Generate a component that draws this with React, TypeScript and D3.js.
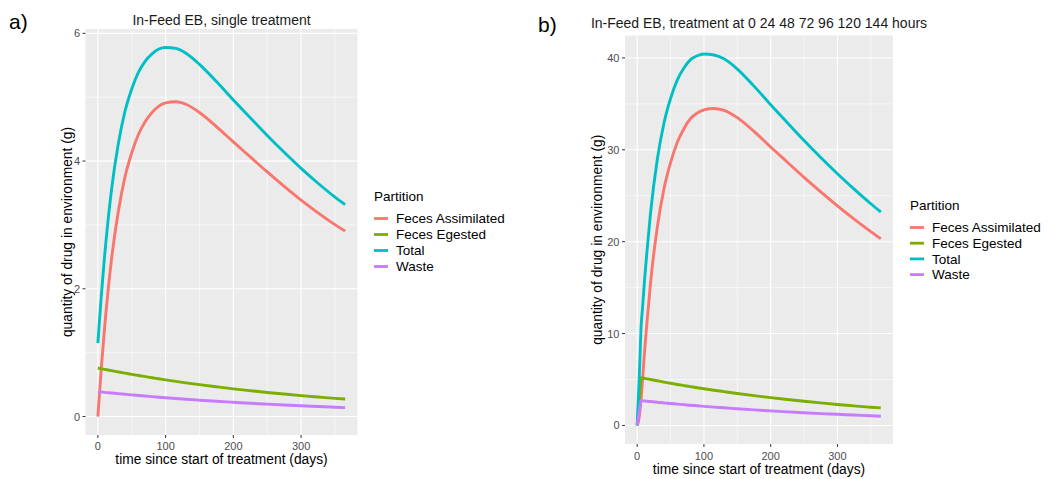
import React from 'react';
import * as d3 from 'd3';

// legend order and ggplot default hue colours
const partitions = ['Feces Assimilated', 'Feces Egested', 'Total', 'Waste'];
const partitionColors = ['#F8766D', '#7CAE00', '#00BFC4', '#C77CFF'];

// panel a: single treatment
const daysA = [0, 5, 10, 20, 30, 40, 50, 60, 70, 80, 90, 100, 115, 130, 150, 175, 200, 225, 250, 275, 300, 325, 350, 365];
const assimA = [0, 0.75, 1.4, 2.45, 3.2, 3.75, 4.13, 4.42, 4.62, 4.76, 4.86, 4.91, 4.93, 4.89, 4.76, 4.54, 4.3, 4.065, 3.83, 3.605, 3.39, 3.19, 3.005, 2.905];
const egestA = [0.76, 0.749, 0.739, 0.719, 0.699, 0.679, 0.661, 0.642, 0.625, 0.607, 0.591, 0.574, 0.551, 0.528, 0.499, 0.466, 0.434, 0.405, 0.377, 0.352, 0.328, 0.306, 0.285, 0.274];
const totalA = [1.15, 1.884, 2.518, 3.538, 4.258, 4.778, 5.13, 5.392, 5.566, 5.679, 5.754, 5.779, 5.764, 5.689, 5.515, 5.245, 4.957, 4.678, 4.401, 4.138, 3.886, 3.653, 3.436, 3.319];
const wasteA = [0.39, 0.385, 0.379, 0.369, 0.359, 0.349, 0.339, 0.33, 0.321, 0.312, 0.303, 0.295, 0.283, 0.271, 0.256, 0.239, 0.223, 0.208, 0.194, 0.181, 0.168, 0.157, 0.146, 0.14];

// panel b: treatment at 0 24 48 72 96 120 144 hours
const daysB = [0, 2, 4, 6, 8, 10, 15, 20, 30, 40, 50, 60, 70, 80, 90, 100, 115, 130, 150, 175, 200, 225, 250, 275, 300, 325, 350, 365];
const assimB = [0, 0.45, 1.5, 3.0, 4.9, 7.0, 11.5, 15.5, 21.5, 25.7, 28.6, 30.8, 32.3, 33.4, 34.0, 34.35, 34.5, 34.3, 33.5, 32.0, 30.3, 28.65, 27.0, 25.42, 23.9, 22.46, 21.1, 20.32];
const egestB = [0, 1.9, 3.6, 5.2, 5.17, 5.14, 5.07, 5.0, 4.86, 4.72, 4.59, 4.46, 4.34, 4.22, 4.1, 3.99, 3.83, 3.68, 3.48, 3.24, 3.02, 2.82, 2.63, 2.45, 2.28, 2.13, 1.98, 1.91];
const totalB = [0, 3.35, 7.0, 10.9, 12.76, 14.81, 19.2, 23.1, 28.89, 32.87, 35.58, 37.58, 38.9, 39.81, 40.24, 40.42, 40.32, 39.9, 38.79, 36.93, 34.91, 32.95, 31.01, 29.16, 27.39, 25.72, 24.13, 23.23];
const wasteB = [0, 1.0, 1.9, 2.7, 2.69, 2.67, 2.63, 2.6, 2.53, 2.45, 2.39, 2.32, 2.26, 2.19, 2.14, 2.08, 1.99, 1.92, 1.81, 1.69, 1.59, 1.48, 1.38, 1.29, 1.21, 1.13, 1.05, 1.0];

const xTicks = [0, 100, 200, 300];
const yTicksA = [0, 2, 4, 6];
const yTicksB = [0, 10, 20, 30, 40];

const font = '"Liberation Sans", Arial, Helvetica, sans-serif';

type PanelProps = {
  box: { left: number; right: number; top: number; bottom: number };
  days: number[];
  series: number[][];
  yTicks: number[];
  title: string;
  titleY: number;
  tag: string;
  tagX: number;
  tagY: number;
  yLabelX: number;
  xTickY: number;
  xTitleY: number;
  legendX: number;
  legendY: number;
  legendStep: number;
};

// minor grid = midpoints between the major ticks (ggplot style)
function minorOf(ticks: number[], domain: number[]) {
  const step = ticks[1] - ticks[0];
  const out = [ticks[0] - step / 2, ...ticks.map(t => t + step / 2)];
  return out.filter(v => v >= domain[0] && v <= domain[1]);
}

function Panel(props: PanelProps) {
  const { box, days, series, yTicks } = props;
  const [x0, x1] = d3.extent(days) as [number, number];
  const xPad = (x1 - x0) * 0.05;
  const x = d3.scaleLinear().domain([x0 - xPad, x1 + xPad]).range([box.left, box.right]);

  const [y0, y1] = d3.extent(series.flat()) as [number, number];
  const yPad = (y1 - y0) * 0.05;
  const y = d3.scaleLinear().domain([y0 - yPad, y1 + yPad]).range([box.bottom, box.top]);

  const line = d3.line<number>()
    .x((d, i) => x(days[i]))
    .y(d => y(d))
    .curve(d3.curveMonotoneX);

  const xMinor = minorOf(xTicks, x.domain());
  const yMinor = minorOf(yTicks, y.domain());
  const cx = (box.left + box.right) / 2;
  const cy = (box.top + box.bottom) / 2;

  return (
    <g fontFamily={font}>
      <text x={props.tagX} y={props.tagY} fontSize={21} fill="#000">{props.tag}</text>
      <text x={cx} y={props.titleY} fontSize={14} textAnchor="middle" fill="#1a1a1a">{props.title}</text>

      <rect x={box.left} y={box.top} width={box.right - box.left} height={box.bottom - box.top} fill="#EBEBEB" />
      {xMinor.map(v => (
        <line key={'xm' + v} x1={x(v)} x2={x(v)} y1={box.top} y2={box.bottom} stroke="#fff" strokeWidth={0.55} />
      ))}
      {yMinor.map(v => (
        <line key={'ym' + v} x1={box.left} x2={box.right} y1={y(v)} y2={y(v)} stroke="#fff" strokeWidth={0.55} />
      ))}
      {xTicks.map(v => (
        <line key={'xg' + v} x1={x(v)} x2={x(v)} y1={box.top} y2={box.bottom} stroke="#fff" strokeWidth={1.1} />
      ))}
      {yTicks.map(v => (
        <line key={'yg' + v} x1={box.left} x2={box.right} y1={y(v)} y2={y(v)} stroke="#fff" strokeWidth={1.1} />
      ))}

      {series.map((s, i) => (
        <path key={partitions[i]} d={line(s) ?? ''} fill="none" stroke={partitionColors[i]}
          strokeWidth={2.9} strokeLinejoin="round" strokeLinecap="butt" />
      ))}

      {/* axes */}
      {xTicks.map(v => (
        <g key={'xt' + v}>
          <line x1={x(v)} x2={x(v)} y1={box.bottom} y2={box.bottom + 3} stroke="#333" strokeWidth={1} />
          <text x={x(v)} y={props.xTickY} fontSize={11} textAnchor="middle" fill="#4D4D4D">{v}</text>
        </g>
      ))}
      {yTicks.map(v => (
        <g key={'yt' + v}>
          <line x1={box.left - 3} x2={box.left} y1={y(v)} y2={y(v)} stroke="#333" strokeWidth={1} />
          <text x={box.left - 5.5} y={y(v) + 4} fontSize={11} textAnchor="end" fill="#4D4D4D">{v}</text>
        </g>
      ))}
      <text x={cx} y={props.xTitleY} fontSize={13.8} textAnchor="middle" fill="#000">
        time since start of treatment (days)
      </text>
      <text transform={`translate(${props.yLabelX},${cy}) rotate(-90)`} fontSize={13.8} textAnchor="middle" fill="#000">
        quantity of drug in environment (g)
      </text>

      {/* legend */}
      <text x={props.legendX} y={props.legendY} fontSize={13.5} fill="#000">Partition</text>
      {partitions.map((p, i) => {
        const ry = props.legendY + 17.5 + i * props.legendStep;
        return (
          <g key={'lg' + p}>
            <line x1={props.legendX} x2={props.legendX + 14} y1={ry} y2={ry} stroke={partitionColors[i]} strokeWidth={2.8} />
            <text x={props.legendX + 22} y={ry + 4.8} fontSize={13.5} fill="#000">{p}</text>
          </g>
        );
      })}
    </g>
  );
}

export default function App() {
  return (
    <svg width={1048} height={479} style={{ position: 'absolute', left: 0, top: 0, background: '#fff' }}>
      <Panel
        box={{ left: 85.5, right: 357.5, top: 29, bottom: 435 }}
        days={daysA}
        series={[assimA, egestA, totalA, wasteA]}
        yTicks={yTicksA}
        title="In-Feed EB, single treatment"
        titleY={25}
        tag="a)"
        tagX={9}
        tagY={29}
        yLabelX={72}
        xTickY={450}
        xTitleY={464}
        legendX={374}
        legendY={201}
        legendStep={16}
      />
      <Panel
        box={{ left: 625, right: 893, top: 35.5, bottom: 444 }}
        days={daysB}
        series={[assimB, egestB, totalB, wasteB]}
        yTicks={yTicksB}
        title="In-Feed EB, treatment at 0 24 48 72 96 120 144 hours"
        titleY={28}
        tag="b)"
        tagX={538}
        tagY={32}
        yLabelX={602}
        xTickY={460}
        xTitleY={474}
        legendX={910}
        legendY={210}
        legendStep={15.7}
      />
    </svg>
  );
}
